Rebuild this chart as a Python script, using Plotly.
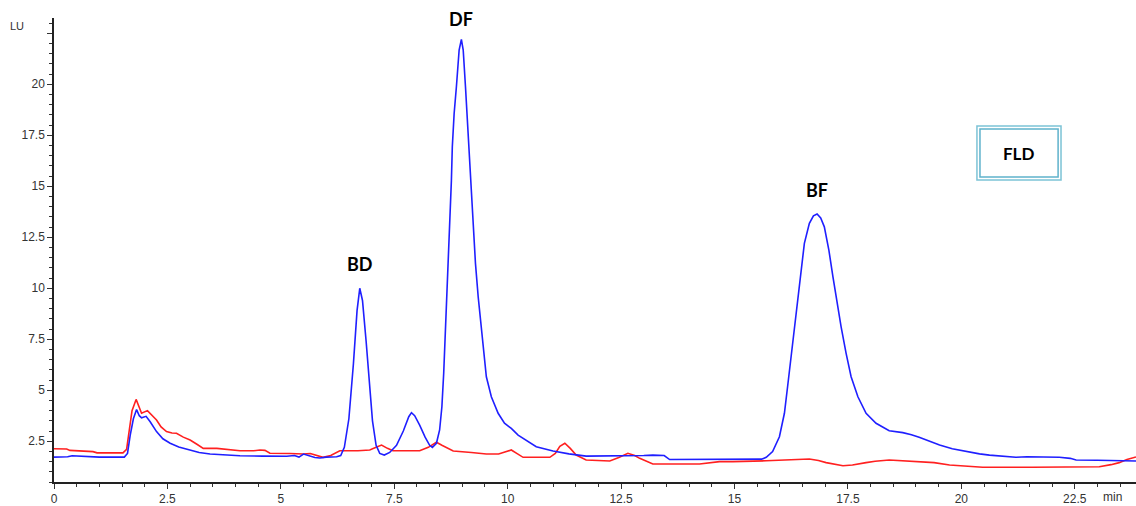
import numpy as np
import plotly.graph_objects as go

# ---- data (retention time in min, signal in LU) ----
blue_t = [0.0, 0.3, 0.4, 0.7, 1.0, 1.55, 1.62, 1.68, 1.75, 1.82, 1.88, 1.93, 2.03, 2.12, 2.26, 2.4, 2.56,
          2.75, 3.0, 3.2, 3.44, 3.8, 4.1, 4.6, 5.13, 5.3, 5.4, 5.5, 5.6, 5.75, 5.86, 6.0, 6.23, 6.32, 6.4,
          6.5, 6.6, 6.68, 6.74, 6.8, 6.88, 6.95, 7.02, 7.1, 7.18, 7.28, 7.4, 7.55, 7.7, 7.82, 7.88, 7.95,
          8.06, 8.18, 8.28, 8.34, 8.43, 8.5, 8.55, 8.59, 8.62, 8.65, 8.68, 8.71, 8.74, 8.76, 8.78, 8.82,
          8.87, 8.93, 8.98, 9.02, 9.07, 9.11, 9.16, 9.2, 9.24, 9.29, 9.35, 9.41, 9.46, 9.53, 9.64, 9.79,
          9.93, 10.08, 10.23, 10.34, 10.63, 11.0, 11.35, 11.73, 12.3, 12.83, 13.0, 13.2, 13.45, 13.57,
          14.2, 14.67, 15.33, 15.6, 15.7, 15.84, 15.99, 16.1, 16.17, 16.25, 16.32, 16.39, 16.47, 16.54,
          16.65, 16.74, 16.82, 16.9, 16.98, 17.08, 17.17, 17.25, 17.35, 17.46, 17.57, 17.72, 17.9, 18.12,
          18.41, 18.71, 18.9, 19.07, 19.3, 19.52, 19.8, 20.1, 20.4, 20.62, 21.2, 21.45, 21.64, 21.9,
          22.16, 22.4, 22.53, 23.0, 23.41, 23.77, 23.85]
blue_y = [1.72, 1.74, 1.79, 1.76, 1.72, 1.72, 1.9, 2.8, 3.6, 4.05, 3.75, 3.65, 3.72, 3.45, 2.97, 2.62, 2.4,
          2.22, 2.07, 1.95, 1.87, 1.82, 1.79, 1.77, 1.76, 1.8, 1.72, 1.87, 1.8, 1.7, 1.68, 1.72, 1.74, 1.8, 2.2,
          3.6, 6.3, 8.9, 10.0, 9.4, 7.4, 5.3, 3.5, 2.3, 1.9, 1.82, 1.95, 2.3, 3.0, 3.7, 3.9, 3.75,
          3.29, 2.7, 2.3, 2.2, 2.4, 3.05, 4.19, 5.83, 7.46, 8.93, 10.24, 11.87, 13.67, 15.3, 16.94, 18.57,
          19.88, 21.68, 22.2, 21.68, 19.88, 18.25, 16.45, 15.14, 12.85, 11.22, 9.58, 8.28, 6.97, 5.66, 4.68, 3.87,
          3.38, 3.13, 2.8, 2.64, 2.23, 2.02, 1.88, 1.77, 1.77, 1.77, 1.8, 1.82, 1.8, 1.6,
          1.6, 1.6, 1.6, 1.62, 1.71, 1.99, 2.72, 3.87, 5.17, 6.64, 8.11, 9.42, 10.73, 12.2,
          13.18, 13.55, 13.64, 13.45, 13.01, 11.87, 10.56, 9.42, 8.11, 6.81, 5.66, 4.68, 3.87, 3.38,
          3.01, 2.92, 2.82, 2.69, 2.5, 2.31, 2.13, 1.99, 1.88, 1.82, 1.71, 1.74, 1.74, 1.74,
          1.71, 1.66, 1.58, 1.57, 1.56, 1.53, 1.53]

red_t = [0.0, 0.28, 0.35, 0.86, 0.95, 1.52, 1.6, 1.66, 1.72, 1.81, 1.87, 1.93, 2.06, 2.15, 2.26, 2.36, 2.48,
         2.6, 2.7, 2.85, 3.0, 3.15, 3.29, 3.59, 3.8, 4.1, 4.4, 4.54, 4.65, 4.76, 5.2, 5.49, 5.65, 5.8, 5.93,
         6.1, 6.3, 6.7, 6.96, 7.1, 7.22, 7.35, 7.47, 7.8, 8.06, 8.25, 8.43, 8.55, 8.72, 8.8, 9.2, 9.53,
         9.8, 9.95, 10.08, 10.2, 10.34, 10.93, 11.05, 11.15, 11.26, 11.38, 11.51, 11.73, 12.25, 12.45,
         12.65, 12.8, 12.91, 13.2, 13.93, 14.23, 14.67, 14.96, 15.7, 16.2, 16.65, 16.85, 17.02, 17.39,
         17.6, 17.9, 18.1, 18.41, 19.0, 19.4, 19.74, 20.1, 20.47, 21.57, 22.5, 23.04, 23.3, 23.48,
         23.65, 23.81, 23.85]
red_y = [2.13, 2.12, 2.05, 1.99, 1.93, 1.93, 2.1, 3.0, 4.0, 4.55, 4.2, 3.87, 4.0, 3.8, 3.54, 3.2, 2.97,
         2.9, 2.89, 2.7, 2.56, 2.35, 2.15, 2.15, 2.1, 2.03, 2.03, 2.07, 2.05, 1.91, 1.9, 1.87, 1.9, 1.78, 1.71,
         1.8, 2.03, 2.03, 2.07, 2.2, 2.31, 2.15, 2.03, 2.03, 2.03, 2.2, 2.45, 2.3, 2.1, 2.02, 1.95, 1.87,
         1.87, 1.97, 2.07, 1.9, 1.71, 1.71, 1.9, 2.25, 2.40, 2.15, 1.82, 1.58, 1.53, 1.7,
         1.91, 1.8, 1.66, 1.38, 1.38, 1.38, 1.5, 1.5, 1.54, 1.58, 1.63, 1.55, 1.45, 1.30,
         1.33, 1.45, 1.52, 1.58, 1.50, 1.45, 1.33, 1.28, 1.22, 1.22, 1.25, 1.25, 1.35, 1.45,
         1.6, 1.71, 1.73]

peak_names = ["BD", "DF", "BF"]
peak_windows = [(6.3, 7.2), (8.5, 9.5), (15.5, 18.0)]
peak_shift = [24, 20, 24]

x_range = [0, 23.85]
y_range = [0.5, 23.25]
x_ticks = [0, 2.5, 5, 7.5, 10, 12.5, 15, 17.5, 20, 22.5]
x_labels = ["0", "2.5", "5", "7.5", "10", "12.5", "15", "17.5", "20", "22.5"]
y_ticks = [2.5, 5, 7.5, 10, 12.5, 15, 17.5, 20, 22.5]
y_labels = ["2.5", "5", "7.5", "10", "12.5", "15", "17.5", "20", ""]

fig = go.Figure()
fig.add_trace(go.Scatter(x=red_t, y=red_y, mode="lines",
                         line=dict(color="#ff2020", width=1.6), showlegend=False))
fig.add_trace(go.Scatter(x=blue_t, y=blue_y, mode="lines",
                         line=dict(color="#1f1fff", width=1.6), showlegend=False))

bt = np.array(blue_t)
by = np.array(blue_y)
for name, (lo, hi), sh in zip(peak_names, peak_windows, peak_shift):
    m = (bt >= lo) & (bt <= hi)
    i = np.argmax(by[m])
    fig.add_annotation(x=bt[m][i], y=by[m][i], text=f"<b>{name}</b>", showarrow=False,
                       xanchor="center", yanchor="middle", yshift=sh,
                       font=dict(family="Lato", size=18, color="#000"))

# FLD box (double border)
fig.add_shape(type="rect", xref="paper", yref="paper", x0=0.853, x1=0.9307, y0=0.651, y1=0.767,
              line=dict(color="#7cc3d6", width=1.5))
fig.add_shape(type="rect", xref="paper", yref="paper", x0=0.8558, x1=0.928, y0=0.6573, y1=0.7608,
              line=dict(color="#5fb2cc", width=1.5))
fig.add_annotation(xref="paper", yref="paper", x=0.8918, y=0.709, text="<b>FLD</b>", showarrow=False,
                   xanchor="center", yanchor="middle",
                   font=dict(family="Lato", size=17, color="#000"))

fig.add_annotation(xref="paper", yref="paper", x=-0.034, y=0.983, text="LU", showarrow=False,
                   xanchor="center", yanchor="middle",
                   font=dict(family="Liberation Sans", size=11, color="#333"))
fig.add_annotation(xref="paper", yref="paper", x=0.978, y=-0.032, text="min", showarrow=False,
                   xanchor="center", yanchor="middle",
                   font=dict(family="Liberation Sans", size=12, color="#333"))

axis_common = dict(showgrid=False, zeroline=False, showline=True, linecolor="#222", linewidth=1.5,
                   ticks="outside", tickcolor="#333", tickwidth=1.3, ticklen=5,
                   tickfont=dict(family="Liberation Sans", size=12, color="#333"),
                   minor=dict(dtick=0.5, ticks="outside", ticklen=3, tickcolor="#333", tickwidth=1.3))
fig.update_xaxes(range=x_range, tickmode="array", tickvals=x_ticks, ticktext=x_labels, **axis_common)
fig.update_yaxes(range=y_range, tickmode="array", tickvals=y_ticks, ticktext=y_labels, **axis_common)

fig.update_layout(width=1136, height=506, margin=dict(l=54, r=0, t=18, b=24),
                  paper_bgcolor="white", plot_bgcolor="white")
fig.write_html("out.html")
